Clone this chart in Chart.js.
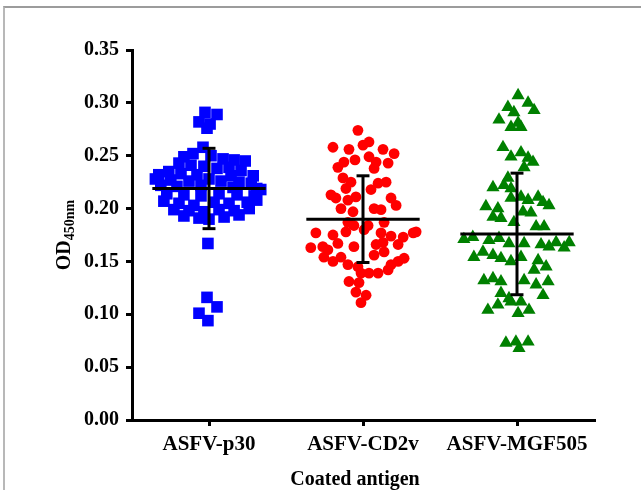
<!DOCTYPE html>
<html><head><meta charset="utf-8">
<script src="https://cdn.jsdelivr.net/npm/chart.js@4.4.1/dist/chart.umd.min.js"></script>
<style>
html,body{margin:0;padding:0;background:#fff;}
#wrap{position:relative;width:641px;height:490px;overflow:hidden;}
#frame{position:absolute;left:3px;top:6px;right:-5px;bottom:-5px;border-left:2px solid #b8b8b8;border-top:2px solid #9c9c9c;pointer-events:none;}
canvas{position:absolute;left:0;top:0;}
</style></head><body>
<div id="wrap"><canvas id="c" width="641" height="490"></canvas><div id="frame"></div></div>
<script>
// ---- data ----
const categories = ['ASFV-p30', 'ASFV-CD2v', 'ASFV-MGF505'];
const yTicks = [0.00, 0.05, 0.10, 0.15, 0.20, 0.25, 0.30, 0.35];
const xTitle = 'Coated antigen';

// ASFV-p30 (x = category position incl. jitter, y = OD)
const p30X = [0.974,1.052,0.935,1.007,0.987,0.961,0.896,0.837,1.013,1.091,1.163,1.235,0.805,0.883,0.967,1.052,1.130,1.208,0.739,0.674,0.818,0.922,1.143,1.287,0.652,0.752,0.870,1.000,1.078,1.195,1.274,0.687,0.792,0.948,1.156,1.310,1.336,0.726,0.837,0.948,1.065,1.182,1.293,0.707,0.805,0.902,1.033,1.130,1.248,1.310,0.772,0.870,0.967,1.065,1.163,1.261,0.837,0.935,1.000,1.098,1.195,0.993,0.987,1.052,0.935,0.993];
const p30Y = [0.291,0.289,0.282,0.280,0.276,0.258,0.252,0.249,0.250,0.247,0.246,0.245,0.243,0.241,0.240,0.238,0.239,0.236,0.235,0.232,0.233,0.232,0.231,0.231,0.228,0.227,0.226,0.228,0.226,0.225,0.224,0.222,0.221,0.222,0.220,0.219,0.218,0.214,0.213,0.212,0.214,0.213,0.212,0.207,0.205,0.203,0.206,0.205,0.206,0.208,0.199,0.198,0.197,0.199,0.198,0.200,0.193,0.191,0.190,0.192,0.194,0.167,0.116,0.107,0.101,0.094];

// ASFV-CD2v
const cd2vX = [1.967,1.805,1.909,2.039,2.000,2.130,2.202,1.876,1.948,2.039,2.085,2.163,1.837,2.072,1.870,1.922,1.889,2.098,2.150,2.052,1.792,1.824,1.902,1.954,2.182,2.215,2.072,2.117,1.857,1.935,1.902,2.033,2.137,1.694,1.805,1.889,1.941,2.007,2.117,2.182,2.261,2.326,2.345,1.661,1.739,1.772,1.837,1.941,2.085,2.130,2.228,1.746,1.805,1.857,1.902,1.967,2.072,2.137,2.182,2.228,2.267,2.039,2.098,1.909,1.974,1.954,2.020,1.987,2.163,1.987];
const cd2vY = [0.274,0.258,0.256,0.263,0.260,0.256,0.252,0.244,0.246,0.249,0.244,0.243,0.239,0.238,0.229,0.225,0.219,0.224,0.225,0.218,0.213,0.210,0.208,0.211,0.210,0.203,0.200,0.199,0.200,0.197,0.187,0.184,0.187,0.177,0.175,0.178,0.184,0.180,0.177,0.174,0.173,0.177,0.178,0.163,0.164,0.161,0.167,0.164,0.166,0.168,0.166,0.154,0.150,0.154,0.147,0.145,0.156,0.159,0.147,0.150,0.153,0.139,0.139,0.131,0.130,0.121,0.118,0.111,0.142,0.139];

// ASFV-MGF505
const mgfX = [3.007,3.072,2.941,2.980,3.111,2.883,3.007,2.961,3.026,2.909,2.961,3.026,3.072,3.104,3.046,2.941,2.844,2.915,2.961,3.026,2.961,3.072,3.137,3.169,3.208,2.798,2.876,2.844,2.896,3.039,3.091,2.980,3.124,3.176,2.655,2.713,2.818,2.883,2.948,3.046,3.156,3.208,3.254,3.306,3.339,2.720,2.779,2.844,2.896,2.961,3.026,3.137,3.189,3.111,2.785,2.844,2.896,3.046,3.124,3.202,3.169,2.896,2.948,2.811,2.876,2.961,3.026,3.078,3.007,2.928,2.993,3.072,3.013];
const mgfY = [0.307,0.300,0.296,0.291,0.293,0.284,0.281,0.277,0.277,0.258,0.249,0.253,0.248,0.244,0.239,0.229,0.220,0.222,0.219,0.211,0.210,0.208,0.211,0.206,0.203,0.202,0.200,0.192,0.191,0.197,0.196,0.187,0.183,0.183,0.171,0.173,0.170,0.172,0.167,0.167,0.166,0.164,0.168,0.163,0.168,0.154,0.159,0.156,0.153,0.150,0.154,0.151,0.145,0.142,0.132,0.134,0.131,0.132,0.128,0.131,0.118,0.120,0.115,0.104,0.109,0.112,0.112,0.104,0.101,0.073,0.074,0.074,0.068];

// group summary (mean and SD)
const means = [0.219, 0.190, 0.176];
const sds = [0.038, 0.041, 0.0575];

// ---- styles ----
const MEAN_HALF = 0.368;
const CAP_HALF = 0.042;
const FONT = '"Liberation Serif", "Times New Roman", serif';

function pts(xs, ys) { return xs.map((x, i) => ({ x: x, y: ys[i] })); }
function seg(a, b) {
  return { type: 'line', data: [a, b], borderColor: '#000', borderWidth: 3, pointRadius: 0,
           fill: false, showLine: true, order: 0, borderCapStyle: 'butt' };
}

const datasets = [
  { label: categories[0], data: pts(p30X, p30Y), pointStyle: 'rect', pointRadius: 8.2,
    backgroundColor: '#0000ff', borderColor: '#0000ff', borderWidth: 0, order: 1 },
  { label: categories[1], data: pts(cd2vX, cd2vY), pointStyle: 'circle', pointRadius: 5.4,
    backgroundColor: '#ff0000', borderColor: '#ff0000', borderWidth: 0, order: 1 },
  { label: categories[2], data: pts(mgfX, mgfY), pointStyle: 'triangle', pointRadius: 7.6,
    backgroundColor: '#008000', borderColor: '#008000', borderWidth: 0, order: 1 }
];
means.forEach((m, i) => {
  const c = i + 1, s = sds[i];
  datasets.push(seg({ x: c - MEAN_HALF, y: m }, { x: c + MEAN_HALF, y: m }));
  datasets.push(seg({ x: c, y: m - s }, { x: c, y: m + s }));
  datasets.push(seg({ x: c - CAP_HALF, y: m + s }, { x: c + CAP_HALF, y: m + s }));
  datasets.push(seg({ x: c - CAP_HALF, y: m - s }, { x: c + CAP_HALF, y: m - s }));
});

const titlePlugin = {
  id: 'titles',
  afterDraw(chart) {
    const ctx = chart.ctx, ca = chart.chartArea;
    ctx.save();
    ctx.fillStyle = '#000';
    ctx.font = 'bold 20px ' + FONT;
    ctx.textAlign = 'center';
    ctx.textBaseline = 'alphabetic';
    ctx.fillText(xTitle, 355, 485);
    // y title with subscript
    ctx.translate(70, (ca.top + ca.bottom) / 2);
    ctx.rotate(-Math.PI / 2);
    ctx.textAlign = 'left';
    ctx.font = 'bold 20px ' + FONT;
    const w1 = ctx.measureText('OD').width;
    ctx.font = 'bold 14px ' + FONT;
    const w2 = ctx.measureText('450nm').width;
    const start = -(w1 + w2) / 2;
    ctx.font = 'bold 20px ' + FONT;
    ctx.fillText('OD', start, 0);
    ctx.font = 'bold 14px ' + FONT;
    ctx.fillText('450nm', start + w1, 4);
    ctx.restore();
  }
};

new Chart(document.getElementById('c'), {
  type: 'scatter',
  data: { datasets: datasets },
  options: {
    responsive: false,
    animation: false,
    layout: { padding: { top: 50, right: 47, left: 0, bottom: 0 } },
    plugins: { legend: { display: false }, tooltip: { enabled: false } },
    scales: {
      x: {
        type: 'linear', min: 0.5, max: 3.5,
        afterFit(s) { s.height = 70; },
        afterBuildTicks(s) { s.ticks = categories.map((c, i) => ({ value: i + 1 })); },
        grid: { drawOnChartArea: false, drawTicks: true, tickLength: 6, color: '#000', lineWidth: 3 },
        border: { display: true, color: '#000', width: 3 },
        ticks: {
          color: '#000', padding: 6, maxRotation: 0, autoSkip: false,
          font: { family: FONT, size: 21, weight: 'bold' },
          callback(v) { return categories[Math.round(v) - 1]; }
        }
      },
      y: {
        type: 'linear', min: 0, max: 0.35,
        afterFit(s) { s.width = 132; },
        afterBuildTicks(s) { s.ticks = yTicks.map(v => ({ value: v })); },
        grid: { drawOnChartArea: false, drawTicks: true, tickLength: 6, color: '#000', lineWidth: 3 },
        border: { display: true, color: '#000', width: 3 },
        ticks: {
          color: '#000', padding: 7,
          font: { family: FONT, size: 20, weight: 'bold' },
          callback(v) { return Number(v).toFixed(2); }
        }
      }
    }
  },
  plugins: [titlePlugin]
});
</script>
</body></html>
